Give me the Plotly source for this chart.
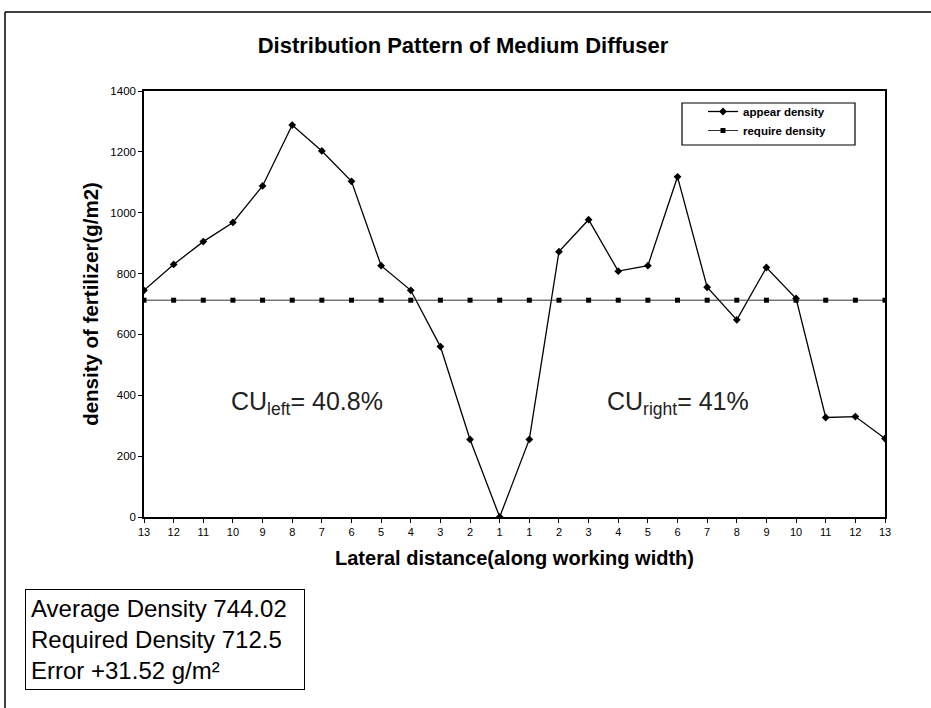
import plotly.graph_objects as go

# ---- data ----
categories = ["13", "12", "11", "10", "9", "8", "7", "6", "5", "4", "3", "2", "1",
              "1", "2", "3", "4", "5", "6", "7", "8", "9", "10", "11", "12", "13"]
appear_density = [745, 830, 905, 968, 1088, 1288, 1203, 1103, 826, 745, 560, 255, 0,
                  255, 872, 977, 808, 826, 1118, 755, 648, 820, 718, 327, 330, 258]
require_density = [712.5, 712.5, 712.5, 712.5, 712.5, 712.5, 712.5, 712.5, 712.5,
                   712.5, 712.5, 712.5, 712.5, 712.5, 712.5, 712.5, 712.5, 712.5,
                   712.5, 712.5, 712.5, 712.5, 712.5, 712.5, 712.5, 712.5]
y_ticks = [0, 200, 400, 600, 800, 1000, 1200, 1400]

FONT = "Liberation Sans, Arial, sans-serif"
x_idx = list(range(len(categories)))

fig = go.Figure()
fig.add_trace(go.Scatter(
    x=x_idx, y=appear_density, name="appear density", mode="lines+markers",
    line=dict(color="black", width=1.3),
    marker=dict(symbol="diamond", size=6, color="black"),
))
fig.add_trace(go.Scatter(
    x=x_idx, y=require_density, name="require density", mode="lines+markers",
    line=dict(color="#333333", width=1),
    marker=dict(symbol="square", size=5, color="black"),
))

W, H = 931, 708
L, R, T, B = 144, 885, 91, 517

def px(xpix):
    return (xpix - L) / (R - L)

def py(ypix):
    return (B - ypix) / (B - T)

fig.update_layout(
    width=W, height=H,
    margin=dict(l=L, r=W - R, t=T, b=H - B),
    paper_bgcolor="white", plot_bgcolor="white",
    font=dict(family=FONT, color="black"),
    title=dict(text="<b>Distribution Pattern of Medium Diffuser</b>",
               font=dict(size=22, family=FONT, color="black"),
               x=463 / W, xref="container", xanchor="center",
               y=1 - 45 / H, yref="container", yanchor="middle"),
    showlegend=True,
    legend=dict(x=px(703), y=py(97), xanchor="left", yanchor="top",
                bgcolor="rgba(0,0,0,0)", borderwidth=0,
                font=dict(size=11.5, family=FONT, color="black", weight="bold"),
                itemwidth=30, tracegroupgap=0),
    xaxis=dict(range=[0, len(categories) - 1], tickmode="array",
               tickvals=x_idx, ticktext=categories,
               showline=True, linecolor="black", linewidth=1.5, mirror=True,
               ticks="outside", ticklen=4, tickcolor="black",
               tickfont=dict(size=11, family=FONT, color="black"),
               showgrid=False, zeroline=False,
               title=dict(text="<b>Lateral distance(along working width)</b>",
                          font=dict(size=20, family=FONT, color="black"),
                          standoff=14)),
    yaxis=dict(range=[0, 1400], tickmode="array", tickvals=y_ticks,
               showline=True, linecolor="black", linewidth=1.5, mirror=True,
               ticks="outside", ticklen=4, tickcolor="black",
               tickfont=dict(size=11.5, family=FONT, color="black"),
               showgrid=False, zeroline=False,
               title=dict(text="<b>density of fertilizer(g/m2)</b>",
                          font=dict(size=20.5, family=FONT, color="black"),
                          standoff=6)),
)

fig.add_annotation(x=5.5, y=375, xref="x", yref="y",
                   text="CU<sub>left</sub>= 40.8%", showarrow=False,
                   font=dict(size=25, family=FONT, color="#222222"))
fig.add_annotation(x=18, y=375, xref="x", yref="y",
                   text="CU<sub>right</sub>= 41%", showarrow=False,
                   font=dict(size=25, family=FONT, color="#222222"))

fig.add_annotation(x=px(25), y=py(589), xref="paper", yref="paper",
                   xanchor="left", yanchor="top", align="left",
                   text="Average Density 744.02<br>Required Density 712.5<br>Error +31.52 g/m²",
                   showarrow=False, width=268, borderpad=5,
                   bordercolor="black", borderwidth=1, bgcolor="white",
                   font=dict(size=24, family=FONT, color="black"))

# legend frame
fig.add_shape(type="rect", xref="paper", yref="paper", layer="above",
              x0=px(682), x1=px(855), y0=py(145), y1=py(103),
              line=dict(color="black", width=1.2), fillcolor="rgba(0,0,0,0)")

# outer chart frame (left and top edges)
fig.add_shape(type="line", xref="paper", yref="paper",
              x0=px(5), x1=px(5), y0=py(12), y1=py(720),
              line=dict(color="black", width=1.5))
fig.add_shape(type="line", xref="paper", yref="paper",
              x0=px(5), x1=px(931), y0=py(12), y1=py(12),
              line=dict(color="black", width=1.5))

fig.write_html("out.html", config={"displayModeBar": False},
               post_script="document.body.style.margin='0';document.body.style.padding='0';")
